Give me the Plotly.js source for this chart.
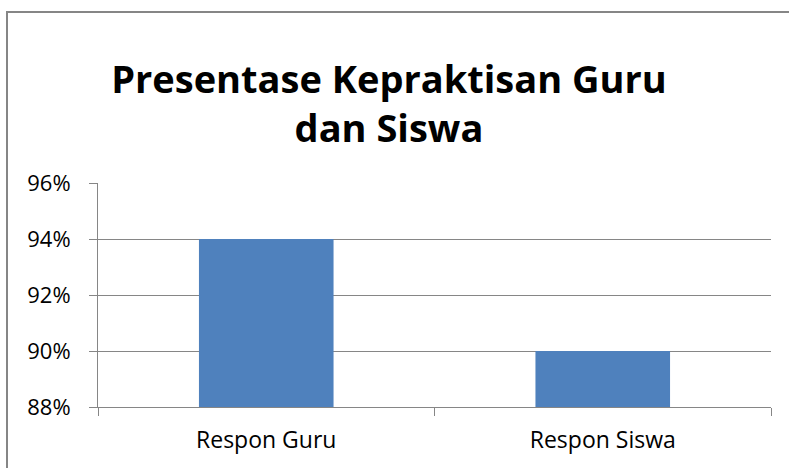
<!DOCTYPE html>
<html>
<head>
<meta charset="utf-8">
<script src="https://cdn.plot.ly/plotly-3.0.1.min.js"></script>
<style>
  html, body { margin: 0; padding: 0; background: #ffffff; overflow: hidden; }
  #wrap { position: relative; width: 789px; height: 468px; }
  #chart { position: absolute; left: 0; top: 0; width: 789px; height: 468px; }
  #frame { position: absolute; left: 6px; top: 11px; width: 800px; height: 480px;
           border: 2px solid #868686; pointer-events: none; }
</style>
</head>
<body>
<div id="wrap">
  <div id="chart"></div>
  <div id="frame"></div>
</div>
<script>
const categories = ["Respon Guru", "Respon Siswa"];
const values = [94, 90];
const yTicks = [88, 90, 92, 94, 96];
const yTickLabels = ["88%", "90%", "92%", "94%", "96%"];
const chartTitle = "Presentase Kepraktisan Guru<br>dan Siswa";

const trace = {
  type: "bar",
  x: categories,
  y: values,
  marker: { color: "#4F81BD" },
  hoverinfo: "x+y"
};

const layout = {
  width: 789,
  height: 468,
  margin: { l: 98, r: 18, t: 183, b: 61 },
  paper_bgcolor: "#ffffff",
  plot_bgcolor: "#ffffff",
  showlegend: false,
  bargap: 0.6,
  font: { family: "'Open Sans', sans-serif", color: "#000000" },
  title: {
    text: chartTitle,
    font: { family: "'Open Sans', sans-serif", size: 38, color: "#000000", weight: "bold" },
    xref: "container", x: 0.493, xanchor: "center",
    yref: "container", y: 1 - 93 / 468, yanchor: "top"
  },
  xaxis: {
    type: "category",
    showline: true, linecolor: "#868686", linewidth: 1,
    ticks: "outside", ticklen: 8, tickcolor: "#868686", tickwidth: 1,
    tickson: "boundaries",
    showgrid: false,
    tickfont: { size: 23, color: "#000000" },
    ticklabelstandoff: 12,
    fixedrange: true
  },
  yaxis: {
    range: [88, 96],
    tickvals: yTicks,
    ticktext: yTickLabels,
    showline: true, linecolor: "#868686", linewidth: 1,
    ticks: "outside", ticklen: 8, tickcolor: "#868686", tickwidth: 1,
    showgrid: true, gridcolor: "#868686", gridwidth: 1,
    zeroline: false,
    tickfont: { size: 22, color: "#000000" },
    ticklabelstandoff: 14,
    fixedrange: true
  }
};

Plotly.newPlot("chart", [trace], layout, { displayModeBar: false, staticPlot: true });
</script>
</body>
</html>
